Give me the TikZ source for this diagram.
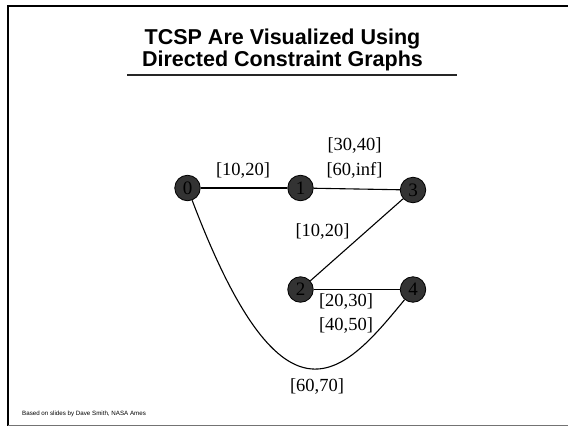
\documentclass[tikz,border=0pt]{standalone}
\usepackage{fontspec}
\setmainfont{Liberation Serif}
\setsansfont{Liberation Sans}
\usetikzlibrary{positioning}

\begin{document}
\begin{tikzpicture}[
            x=1pt, y=-1pt,
            vertex/.style={
                circle, draw=black, fill=black!80, thick,
                minimum size=25.5pt, inner sep=0pt,
                font=\fontsize{19}{19}\selectfont, text=black
            },
            edge/.style={draw, line width=1.1pt},
            interval/.style={font=\fontsize{18.5}{18.5}\selectfont, inner sep=0pt},
            title/.style={font=\fontsize{21.5}{22.5}\selectfont\sffamily\bfseries, align=center},
            credit/.style={font=\fontsize{6.2}{7}\selectfont\sffamily, anchor=base west, inner sep=0pt}
        ]
        \useasboundingbox (0,0) rectangle (568,426);

        % --- Slide frame ---
        \draw[line width=2.5pt] (8,426) -- (8,6) -- (568,6);
        \draw[black!55, line width=1pt] (8,425.5) -- (568,425.5);

        % --- Title ---
        \node[title] (title) at (282.5,50) {TCSP Are Visualized Using\\Directed Constraint Graphs};
        \draw[black!85, line width=2pt] (127,75) -- (457,75);

        % --- Time points ---
        \node[vertex] (n0) at (187.5,188) {0};
        \node[vertex] (n1) at (300.5,188) {1};
        \node[vertex] (n3) at (413,190) {3};
        \node[vertex] (n2) at (300.5,289.5) {2};
        \node[vertex] (n4) at (413,289.5) {4};

        % --- Constraints ---
        \path[edge] (n0) -- (n1);
        \path[edge] (n1) -- (n3);
        \path[edge] (n3) -- (n2);
        \path[edge] (n2) -- (n4);
        \path[edge] (n0) .. controls (285,445) and (345,372) .. (n4);

        % --- Interval labels ---
        \node[interval] (c01) at (243,170.5) {[10,20]};
        \node[interval] (c13a) at (354.5,146) {[30,40]};
        \node[interval] (c13b) at (354.5,170.5) {[60,inf]};
        \node[interval] (c32) at (322.5,231.5) {[10,20]};
        \node[interval] (c24a) at (346,301.5) {[20,30]};
        \node[interval] (c24b) at (346,325) {[40,50]};
        \node[interval] (c04) at (317,386.5) {[60,70]};

        % --- Footer ---
        \node[credit] (credit) at (22,415) {Based on slides by Dave Smith, NASA Ames};

        \end{tikzpicture}
\end{document}
